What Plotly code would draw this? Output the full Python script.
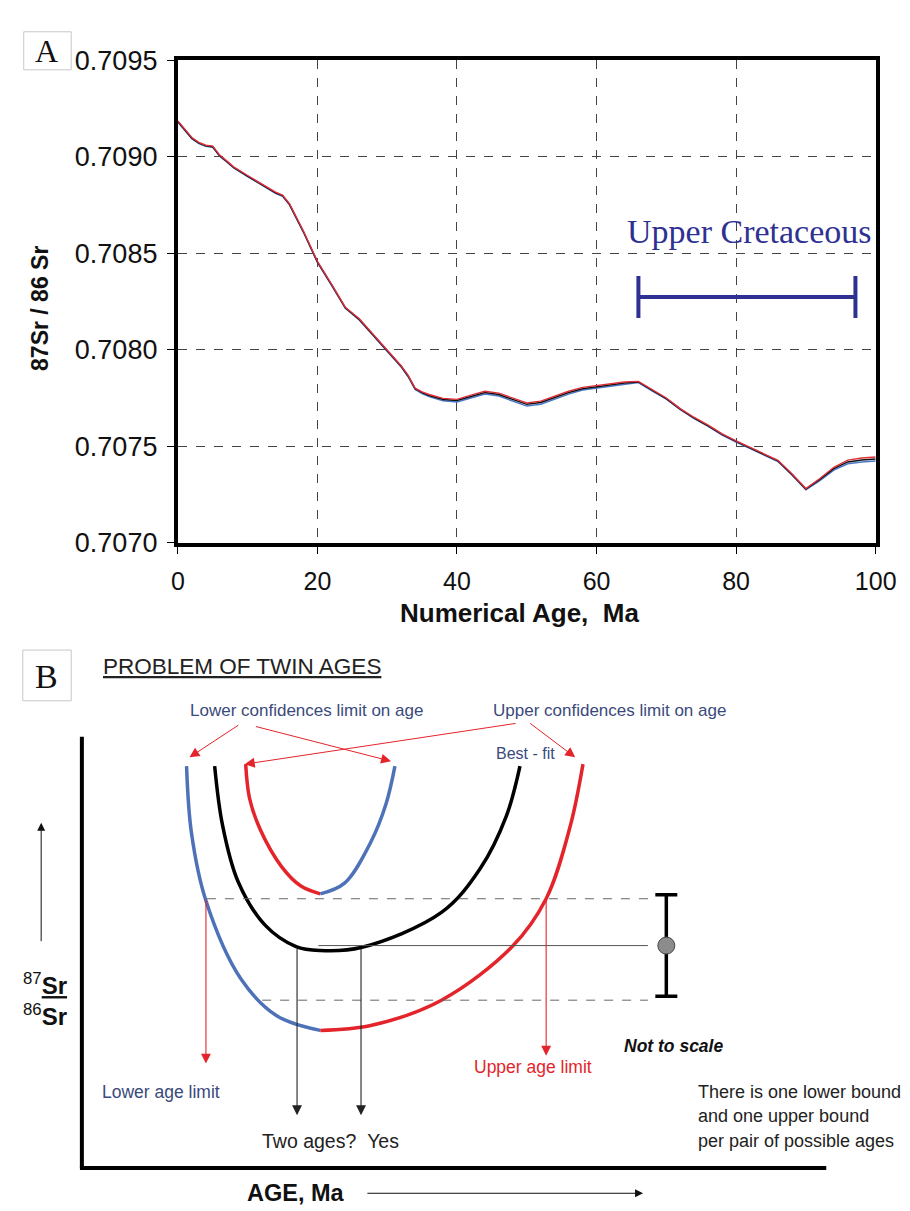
import plotly.graph_objects as go

OFF = 0
W, H = 910, 1211

# ---------------- Panel A data ----------------
ages = [0, 1, 2, 3, 4, 5, 6, 7, 8,
        10, 12, 14, 15, 16, 18,
        20, 22, 24, 26, 28,
        30, 32, 33, 34, 35, 36, 38,
        40, 42, 44, 46, 48, 50, 52, 54, 56, 58, 60, 62, 64, 66, 68, 70,
        72, 74, 76, 78, 80, 82, 84, 86, 88, 90, 92, 94, 96, 98, 100]

sr_best = [0.709182, 0.709136, 0.709096, 0.709071, 0.709056, 0.709051, 0.709005, 0.708975, 0.708944,
           0.708899, 0.708854, 0.708813, 0.708798, 0.708753, 0.708611,
           0.708455, 0.708338, 0.708217, 0.708157, 0.708076,
           0.707995, 0.707914, 0.707864, 0.707798, 0.707778, 0.707763, 0.707742,
           0.707737, 0.707758, 0.707778, 0.707768, 0.707742, 0.707717, 0.707727, 0.707753, 0.707778,
           0.707798, 0.707808, 0.707818, 0.707828, 0.707833, 0.707788, 0.707747,
           0.707692, 0.707646, 0.707606, 0.707561, 0.707525, 0.707490, 0.707455, 0.707424, 0.707354,
           0.707278, 0.707328, 0.707384, 0.707419, 0.707429, 0.707434]

sr_upper = [0.709185, 0.709139, 0.709099, 0.709074, 0.709059, 0.709054, 0.709008, 0.708978, 0.708947,
            0.708902, 0.708857, 0.708816, 0.708801, 0.708756, 0.708614,
            0.708458, 0.708341, 0.708220, 0.708160, 0.708079,
            0.707998, 0.707917, 0.707867, 0.707801, 0.707782, 0.707768, 0.707748,
            0.707743, 0.707765, 0.707785, 0.707775, 0.707749, 0.707724, 0.707734, 0.707760, 0.707785,
            0.707805, 0.707815, 0.707824, 0.707833, 0.707836, 0.707791, 0.707750,
            0.707695, 0.707649, 0.707609, 0.707564, 0.707528, 0.707493, 0.707458, 0.707427, 0.707357,
            0.707281, 0.707333, 0.707391, 0.707428, 0.707439, 0.707444]

sr_lower = [0.709179, 0.709133, 0.709093, 0.709068, 0.709053, 0.709048, 0.709002, 0.708972, 0.708941,
            0.708896, 0.708851, 0.708810, 0.708795, 0.708750, 0.708608,
            0.708452, 0.708335, 0.708214, 0.708154, 0.708073,
            0.707992, 0.707911, 0.707860, 0.707794, 0.707773, 0.707757, 0.707735,
            0.707729, 0.707750, 0.707770, 0.707760, 0.707734, 0.707708, 0.707718, 0.707745, 0.707770,
            0.707791, 0.707801, 0.707811, 0.707822, 0.707830, 0.707785, 0.707744,
            0.707689, 0.707643, 0.707603, 0.707558, 0.707522, 0.707487, 0.707452, 0.707421, 0.707351,
            0.707275, 0.707322, 0.707376, 0.707409, 0.707418, 0.707423]

x_ticks = [0, 20, 40, 60, 80, 100]
y_ticks = [0.7070, 0.7075, 0.7080, 0.7085, 0.7090, 0.7095]
y_tick_labels = ["0.7070", "0.7075", "0.7080", "0.7085", "0.7090", "0.7095"]

uk_label = "Upper Cretaceous"
uk_start, uk_end = 66.0, 97.1
uk_level = 0.708273
uk_label_level = 0.708610

# ---------------- Panel B (schematic, diagram units) ----------------
blue_outer_x = [177, 182, 197, 233, 270, 315]
blue_outer_y = [762, 830, 900, 980, 1018, 1033]
red_outer_x = [315, 367, 440, 513, 548, 573, 586]
red_outer_y = [1033, 1028, 1002, 947, 898, 823, 760]
best_fit_x = [206, 214, 230, 258, 290, 315, 357, 440, 480, 507, 521]
best_fit_y = [762, 822, 880, 925, 947, 951, 948, 912, 867, 813, 762]
red_inner_x = [238, 242, 253, 275, 295, 315]
red_inner_y = [760, 795, 827, 865, 885, 893]
blue_inner_x = [315, 340, 367, 383, 392]
blue_inner_y = [893, 882, 840, 800, 762]

meas_age = [672]
meas_ratio = [946]
meas_err = [52]
ratio_hi, ratio_lo = 898, 1002
twin_ages = [291, 357]
age_limits = [197, 548]

BLUE = "#4E72B8"
RED = "#E4242B"
NAVY = "#2E3192"
LBL = "#3A4A7C"
SANS = "Liberation Sans, Arial, sans-serif"
SERIF = "Liberation Serif, Times New Roman, serif"

fig = go.Figure()

# Panel A curves
fig.add_trace(go.Scatter(x=ages, y=sr_lower, mode="lines", line=dict(color="#4A78C8", width=1.5),
                         xaxis="x", yaxis="y", hoverinfo="skip"))
fig.add_trace(go.Scatter(x=ages, y=sr_best, mode="lines", line=dict(color="#111111", width=1.5),
                         xaxis="x", yaxis="y", hoverinfo="skip"))
fig.add_trace(go.Scatter(x=ages, y=sr_upper, mode="lines", line=dict(color="#E0303A", width=1.4),
                         xaxis="x", yaxis="y", hoverinfo="skip"))
# Upper Cretaceous bar
fig.add_trace(go.Scatter(x=[(uk_start + uk_end) / 2], y=[uk_level], mode="markers",
                         marker=dict(size=1, color=NAVY),
                         error_x=dict(type="data", symmetric=True, array=[(uk_end - uk_start) / 2],
                                      color=NAVY, thickness=4, width=21),
                         xaxis="x", yaxis="y", hoverinfo="skip"))

# Panel B curves
for cx, cy, col in [(blue_outer_x, blue_outer_y, BLUE), (red_outer_x, red_outer_y, RED),
                    (best_fit_x, best_fit_y, "#000000"), (red_inner_x, red_inner_y, RED),
                    (blue_inner_x, blue_inner_y, BLUE)]:
    fig.add_trace(go.Scatter(x=cx, y=cy, mode="lines",
                             line=dict(color=col, width=3.5, shape="spline", smoothing=1.0),
                             xaxis="x2", yaxis="y2", hoverinfo="skip"))

# measured value with error bar
fig.add_trace(go.Scatter(x=meas_age, y=meas_ratio, mode="markers",
                         marker=dict(size=17, color="#8C8C8C", line=dict(color="#444444", width=1)),
                         error_y=dict(type="data", symmetric=True, array=meas_err, color="#000000",
                                      thickness=3.5, width=11),
                         xaxis="x2", yaxis="y2", hoverinfo="skip"))

shapes = []
annotations = []


def px(x, y):
    return (x - OFF) / W, 1 - (y - OFF) / H


def paper_label(x, y, text, size, color="#111", family=SANS, angle=0):
    px_, py_ = px(x, y)
    annotations.append(dict(xref="paper", yref="paper", x=px_, y=py_, text=text, showarrow=False,
                            xanchor="center", yanchor="middle", textangle=angle,
                            font=dict(family=family, size=size, color=color)))


# A label box
x0, y1 = px(9, 9)
x1, y0 = px(58, 48)
shapes.append(dict(type="rect", xref="paper", yref="paper", x0=x0, x1=x1, y0=y0, y1=y1,
                   line=dict(color="#C8C8C8", width=1), fillcolor="white", layer="above"))
paper_label(33, 29, "A", 32, family=SERIF)
paper_label(26, 293, "<b>87Sr / 86 Sr</b>", 23, angle=-90)
paper_label(520, 605, "<b>Numerical Age,\u00a0\u00a0Ma</b>", 26)

annotations.append(dict(xref="x", yref="y", x=(uk_start + uk_end) / 2 + 0.4, y=uk_label_level, text=uk_label,
                        showarrow=False, xanchor="center", yanchor="middle",
                        font=dict(family=SERIF, size=34, color=NAVY)))


# ---- Panel B decorations ----
def xy_line(x0, y0, x1, y1, color, width, dash="solid"):
    shapes.append(dict(type="line", xref="x2", yref="y2", x0=x0, y0=y0, x1=x1, y1=y1,
                       line=dict(color=color, width=width, dash=dash)))


def arrow(x0, y0, x1, y1, color, width=1.1, size=1.6):
    annotations.append(dict(xref="x2", yref="y2", axref="x2", ayref="y2", x=x1, y=y1, ax=x0, ay=y0,
                            text="", showarrow=True, arrowhead=2, arrowsize=size, arrowwidth=width,
                            arrowcolor=color, standoff=0, startstandoff=0))


def label(x, y, text, color="#222", size=15, anchor="center", family=SANS):
    annotations.append(dict(xref="x2", yref="y2", x=x, y=y, text=text, showarrow=False, xanchor=anchor,
                            yanchor="middle", font=dict(family=family, size=size, color=color)))


# B label box
shapes.append(dict(type="rect", xref="x2", yref="y2", x0=8, x1=58, y0=643, y1=695,
                   line=dict(color="#C8C8C8", width=1), fillcolor="white"))
label(33, 670, "B", "#111", 34, family=SERIF)
label(89, 660, "<u>PROBLEM OF TWIN AGES</u>", "#222", 22.5, anchor="left")

# axes frame of B
xy_line(69, 732, 69, 1174, "#000", 4)
xy_line(67, 1174, 837, 1174, "#000", 4)

# dashed bounds and measured line
xy_line(198, ratio_hi, 653, ratio_hi, "#666", 1, "dash")
xy_line(255, ratio_lo, 653, ratio_lo, "#666", 1, "dash")
xy_line(313, meas_ratio[0], 653, meas_ratio[0], "#555", 1)

# vertical arrows
arrow(age_limits[0], ratio_hi, age_limits[0], 1067, RED, 1.1, 1.8)
arrow(age_limits[1], ratio_hi, age_limits[1], 1059, RED, 1.1, 1.8)
arrow(twin_ages[0], 948, twin_ages[0], 1120, "#222", 1.1, 1.8)
arrow(twin_ages[1], 948, twin_ages[1], 1120, "#222", 1.1, 1.8)

# label arrows at top
arrow(232, 719, 180, 753, RED, 1.0, 2.0)
arrow(247, 721, 388, 757, RED, 1.0, 2.0)
arrow(518, 718, 237, 760, RED, 1.0, 2.0)
arrow(530, 717, 578, 753, RED, 1.0, 2.0)

# y direction arrow and x direction arrow
arrow(27, 943, 27, 820, "#111", 1.0, 1.6)
arrow(362, 1200, 648, 1200, "#111", 1.0, 1.6)

label(301, 705, "Lower confidences limit on age", LBL, 17)
label(613, 705, "Upper confidences limit on age", LBL, 17)
label(527, 749, "Best - fit", LBL, 16)
label(88, 1096, "Lower age limit", LBL, 17.5, anchor="left")
label(472, 1071, "Upper age limit", RED, 17.5, anchor="left")
label(253, 1146, "Two ages?\u00a0\u00a0Yes", "#222", 19.5, anchor="left")
label(626, 1049, "<b><i>Not to scale</i></b>", "#111", 17.5, anchor="left")
label(703, 1096, "There is one lower bound", "#222", 18, anchor="left")
label(703, 1121, "and one upper bound", "#222", 18, anchor="left")
label(703, 1146, "per pair of possible ages", "#222", 18, anchor="left")
label(290, 1200, "<b>AGE, Ma</b>", "#111", 23.5)
label(31, 985, "<sup>87</sup><b><u>Sr</u></b>", "#111", 24)
label(31, 1017, "<sup>86</sup><b>Sr</b>", "#111", 24)

fig.update_layout(
    width=W, height=H, margin=dict(l=0, r=0, t=0, b=0),
    paper_bgcolor="white", plot_bgcolor="white", showlegend=False,
    xaxis=dict(domain=[(168 - OFF) / W, (888 - OFF) / W], range=[0, 100], tickvals=x_ticks, ticks="outside",
               ticklen=7, tickcolor="#000", showline=True, linecolor="#000", linewidth=4, mirror=True,
               showgrid=True, gridcolor="#444", griddash="dash", gridwidth=1, zeroline=False,
               ticklabeloverflow="allow", ticklabelstandoff=6,
               tickfont=dict(family=SANS, size=25, color="#111"), anchor="y"),
    yaxis=dict(domain=[(H - (533 - OFF)) / H, (H - (38 - OFF)) / H], range=[0.7070, 0.7095], tickvals=y_ticks,
               ticktext=y_tick_labels, ticks="outside", ticklen=7, tickcolor="#000", showline=True,
               linecolor="#000", linewidth=4, mirror=True, showgrid=True, gridcolor="#444",
               griddash="dash", gridwidth=1, zeroline=False, ticklabelstandoff=4, ticklabeloverflow="allow",
               tickfont=dict(family=SANS, size=27, color="#111"), anchor="x"),
    xaxis2=dict(domain=[0, 1], range=[OFF, W + OFF], visible=False, anchor="y2"),
    yaxis2=dict(domain=[0, (H - (593 - OFF)) / H], range=[H + OFF, 593], visible=False, anchor="x2"),
    shapes=shapes, annotations=annotations,
)

fig.write_html("out.html")
